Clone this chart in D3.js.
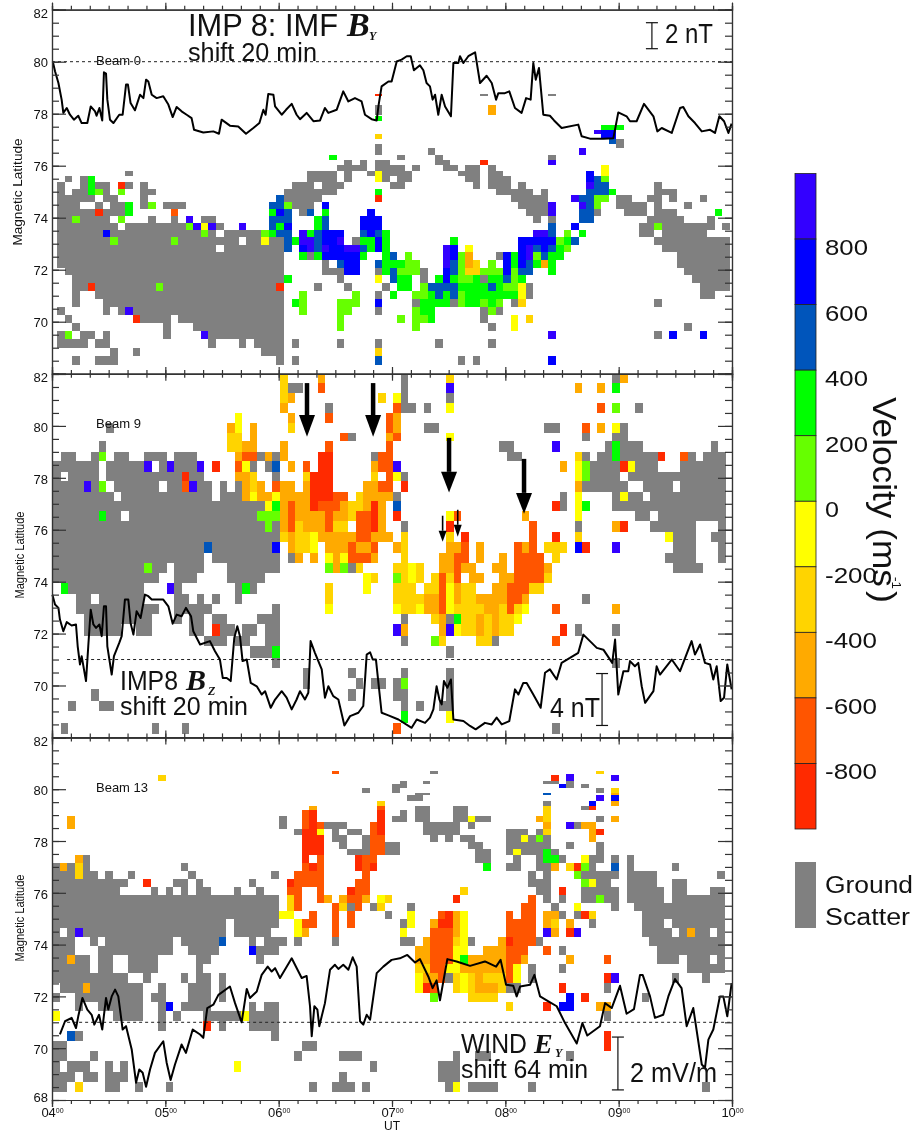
<!DOCTYPE html>
<html>
<head>
<meta charset="utf-8">
<title>IMF and radar velocity</title>
<script src="https://cdn.jsdelivr.net/npm/d3@7"></script>
<style>
  body { margin: 0; background: #fff; }
  text { font-family: "Liberation Sans", Arial, sans-serif; fill: #111; }
  .serif { font-family: "Liberation Serif", serif; font-weight: bold; font-style: italic; }
</style>
</head>
<body>
<div id="chart"></div>
<script>
// velocity bin codes, top of the colour bar first; x = ground scatter
const binCodes = ["a", "b", "c", "d", "e", "f", "g", "h", "i", "j", "x"];
const binColors = ["#3300ff", "#0000ff", "#0055bb", "#00ff00", "#66ff00", "#ffff00", "#ffd400", "#ffaa00", "#ff5500", "#ff2a00", "#808080"];
const velocityEdges = [1000, 800, 600, 400, 200, 0, -200, -400, -600, -800, -1000];
const velocityLabels = [800, 600, 400, 200, 0, -200, -400, -600, -800];

// cells are 4 min wide. each row string lists "col" or "from-to" + bin code
const beam0Edges = [78.76, 78.68, 78.35, 77.96, 77.90, 77.71, 77.58, 77.38, 77.22, 77.04, 76.85, 76.68, 76.42, 76.23, 76.01, 75.79, 75.59, 75.36, 75.12, 74.86, 74.59, 74.33, 74.08, 73.81, 73.53, 73.24, 72.96, 72.67, 72.37, 72.08, 71.78, 71.47, 71.18, 70.87, 70.56, 70.26, 69.95, 69.64, 69.32, 69.0, 68.67, 68.32];
const beam0Rows = [
  "42j 56x 65x",
  "",
  "42x 57h",
  "",
  "42d",
  "",
  "72-74d",
  "71a 72-73b",
  "42g 72-73b",
  "73c 74x",
  "42x 74x",
  "42x 49x 69a",
  "36d 45x 50x 65x",
  "38x 40x 42-43x 50-51x 56j 65a",
  "37-39x 40x 42-45x 47x 51-52x 54-55x 57x 72f",
  "9x 33-36x 38x 41x 42f 43-46x 53-55x 57-58x 70b 72f",
  "1x 3x 4d 33-36x 38x 42f 43x 45-46x 54-55x 57-59x 70b 71c 72e",
  "0x 3x 4d 5-6x 8j 9x 11x 31-33x 35-37x 44-45x 55x 57-59x 61x 70a 71-72c 79x",
  "0x 2-3x 4d 5e 6x 8e 11-12x 30-36x 42d 58-62x 64x 70c 71-72c 73d 79-81x",
  "0-4x 6-7x 11x 29c 30-34x 42j 60-64x 68a 69-70c 71-72e 74-75x 78-79x 81x 85x",
  "0-2x 5x 7-8x 9d 11x 12e 14-16x 28-29c 30e 31-33x 35b 61-64x 65a 69a 70c 71e 74-77x 79x 83x",
  "0-4x 5j 6-8x 9d 15i 28d 29b 30c 32x 33c 35d 41b 62-64x 65a 69-70c 71x 75-77x 79-81x 87d",
  "0-1x 2e 3-6x 8e 12x 15x 17a 19-20x 28-30c 34d 35c 40-42b 63x 65x 69-70c 78-82x 86x",
  "0-7x 9-16x 17e 18a 19f 20a 21x 24a 28c 29d 30b 34d 35c 40-42b 65c 68b 77-78x 79e 80-86x 88x",
  "0-5x 6b 7-18x 19e 20x 22-26x 27e 28d 29-30c 32a 33d 34c 35-37b 40c 41b 42c 43d 63-64a 65c 67e 69d 77-78x 80-85x",
  "0-6x 7e 8-14x 15e 16-23x 25-26x 27f 28-29x 30c 31d 32-33a 34c 35-36b 37a 39x 40-41d 42b 43d 52d 61-65b 66e 67d 68c 79-88x",
  "0-20x 22-29x 30c 32b 33a 34c 35a 36-37b 38-39a 40c 41d 42b 43d 51a 52b 54f 61b 62a 63c 64b 65c 66d 67e 80-88x",
  "0-29x 32d 33x 34d 35-39b 40d 43d 44c 46e 51a 52b 53e 54h 58x 59b 60d 61b 62a 63e 64c 65-66d 82-88x",
  "0-29x 35x 37c 38-39b 42c 43-45d 46-47e 51a 52c 53e 54h 55g 57e 59b 60d 61b 62c 63d 64h 65d 82-88x",
  "1-29x 35-37x 38-39b 42x 43d 44c 45-47e 48x 51b 52c 53e 54-55g 56-58e 59b 60e 61-62c 65d 83-88x",
  "2-29x 30d 37x 42f 44c 45-46d 48x 50d 51b 52d 53-54e 55d 56x 57-58d 59c 60e 61d 84-88x",
  "2-3x 4j 5-12x 13e 14-28x 29j 34x 38x 43x 45-46d 48e 49-52c 53-56d 57c 58d 59-60e 61f 62x 85-88x",
  "2x 5-29x 32e 39e 42x 44d 47-48e 49d 50c 51d 52c 53e 54-60d 61f 62x 85-86x",
  "2x 6-29x 31d 32e 37-39e 42b 47x 48-51d 52x 53e 54-55d 56e 57d 58e 60x 61g 79x",
  "0x 6x 8x 9a 10-29x 32e 37-38e 42x 47e 48-49d 56x 57e 58x",
  "1x 10j 11-14x 16-29x 37e 45e 47-48e 49d 56x 60f 62g",
  "2x 14x 18-29x 37e 47e 57x 60f 83x",
  "0x 1e 3-4x 6x 14x 19a 20-29x 65a 79x 81b 85b",
  "0-3x 5-6x 20x 24x 26-29x 31x 37x 42x 50x 57x",
  "7x 10x 27-29x 42g",
  "2x 5-7x 29x 31x 42c 53x 55x 65b"
];

const beam9Edges = [82.0, 81.64, 81.26, 80.87, 80.49, 80.10, 79.72, 79.40, 79.01, 78.63, 78.24, 77.86, 77.47, 77.09, 76.71, 76.32, 75.91, 75.51, 75.12, 74.72, 74.32, 73.94, 73.54, 73.14, 72.74, 72.35, 71.92, 71.51, 71.06, 70.68, 70.29, 69.85, 69.40, 69.01, 68.56, 68.12];
const beam9Rows = [
  "30g 35h 46x 52g 74x 75h",
  "30g 31-32x 35i 46x 52a 69h 72h 74d",
  "30g 31h 43g 45f 46x 52x",
  "30h 36x 45i 46-47x 49x 52f 72i 74e 77x",
  "24f 31h 36i 44i 45h",
  "7x 23h 24f 26h 31g 44i 45h 49-50x 65-66x 70i 72h 74f 75x",
  "23-24g 26h 38i 39x 44h 45i 52f 70x 74-75x",
  "6x 23-24g 25-26h 30h 36i 44i 59-60x 66a 73x 74d 75-77x 87x",
  "1-2x 5x 6e 8-9x 12-14x 16-18x 24h 25-26i 27x 28h 29x 30h 35-36j 42x 43-44i 60-61x 69g 70x 72-73x 74d 75-79x 80j 83i 84x 86-88x",
  "0-5x 7-11x 12a 14x 15a 16-18x 19a 21j 24i 25f 26x 28x 29c 31h 33i 35-36j 42h 43-44i 45a 67h 69f 70e 71-74x 75j 76f 77-79x 83-88x",
  "0x 2-5x 7-16x 17j 18-19x 24-25h 26g 29x 33g 34-36j 42g 44i 45f 46x 69f 70e 71-74x 76-88x",
  "0-3x 4a 5x 6e 8-13x 15-16x 17i 18a 19-20x 22x 24x 25h 26g 27h 29i 30-31h 33h 34-36j 41-42h 43-44i 46j 69h 70-75x 78-81x 83-88x",
  "0-7x 9-20x 22-24x 25h 26f 27-28h 29f 30-33h 34-36j 37-38i 40g 41-44h 45x 67x 69f 74x 75f 76-77x 79-88x",
  "0-27x 28f 29d 30h 31i 32-33h 34j 35-37i 38h 39-40g 41h 42j 43h 45c 66j 67x 69f 70d 74-88x",
  "0-5x 6d 7-8x 10-26x 27-29e 30h 31i 32-35h 36i 37-38h 39g 40-41i 42j 43h 45j 52f 53i 62h 69f 77-78x 80-88x",
  "0-27x 28e 29x 30h 31i 32g 33-35h 36i 37-38g 40-41i 42j 43h 46x 52j 63i 69x 74h 75j 79-84x 88x",
  "0-29x 30g 31h 32-33g 34f 35-39h 40-41i 42-44h 46g 52g 54j 63i 66j 69g 81f 82-84x 87-88x",
  "0-19x 20c 21-28x 29b 31h 32-33g 34f 36-38h 39i 40-41h 42i 45h 46g 52-53h 54i 56h 61i 62h 63i 65-67g 69b 70j 74a 82-84x 88x",
  "0-19x 21-29x 31x 32h 34h 36f 37h 38f 39-41i 42h 46g 51-52h 53-54i 56h 59h 61-64i 66g 81-84x 88x",
  "0-11x 12e 13-14x 16-19x 23-29x 36e 37h 38e 39x 40g 45-46g 47f 48g 51-52h 53i 54-55h 58-59h 61-64i 65h 82-85x",
  "0-13x 16-18x 23-27x 41f 42g 45e 46g 47f 48g 50g 51i 52g 53i 55-56h 59-60h 61-64i 65g",
  "1d 2-11x 15a 16x 24x 25d 26x 36g 41f 45-47g 49-50g 51i 52f 53h 54-55g 58-59h 60-62i 63-64g",
  "3-4x 6-11x 16-17x 19x 21x 24x 36g 45-48g 49-50h 51i 52f 53h 54-55g 56-59h 60-61i 62h 70x",
  "3-13x 16-20x 29x 36f 45f 46-47g 48f 49-50h 51i 52f 53-56g 57-58h 59g 60i 61g 62f 66i 74h",
  "4-12x 16x 18-19x 21-22x 27-29x 46x 50g 51h 52x 53d 54-55g 56h 57g 58h 59-60g 61f",
  "4-8x 11-12x 18-19x 21j 22-23x 25-26x 28-29x 45a 46h 51h 52a 53f 54-55g 56h 57g 58h 59-60g 67j 69x 74x",
  "20-22x 24-25x 28-29x 46x 50e 51g 56-57g 58x 66i",
  "26-28x 29d 52x",
  "29x 74x",
  "33x 39x 46x 52x",
  "33x 40x 42-43x 45x 46e 52x",
  "5x 39x 45-46x 52x",
  "2x 6-7x 46x 48x 51-52x",
  "46d 52f",
  "1x 13x 17x 45i 66x"
];

const beam13Edges = [80.69, 80.59, 80.53, 80.33, 80.21, 80.05, 79.85, 79.76, 79.56, 79.37, 79.18, 78.95, 78.73, 78.47, 78.22, 77.96, 77.71, 77.45, 77.15, 76.85, 76.55, 76.23, 75.91, 75.59, 75.29, 74.97, 74.63, 74.28, 73.96, 73.6, 73.26, 72.9, 72.51, 72.15, 71.78, 71.42, 71.06, 70.68, 70.29, 69.91, 69.5, 69.09, 68.71, 68.31];
const beam13Rows = [
  "37i 50x 72g",
  "68a",
  "14g 66j 68a 74a",
  "46x 49x 65-66x 68x",
  "45-46x 67b 68x 70x",
  "41x 45x 72x 74g",
  "48-49x 65c 74h",
  "47-48x 72a 74b",
  "43g 65x 71b 74h",
  "34h 43i 48-49x 53-54x 65g 70x 71j",
  "33i 34j 43j 46x 48-49x 53-54x 65g",
  "2h 30x 33i 34j 43j 45-46x 48-49x 53-54x 55f 56-57x 64h 65g 72x 74h",
  "2h 30x 33i 34j 35i 36-38x 42i 43j 49-53x 55x 65h 68a 69x 70-71h",
  "32x 33-34j 35f 37x 39-40x 42i 43j 49-53x 60-62x 64x 65g 71h 72j",
  "33-35j 37-38x 41x 42-43i 50x 52x 54-55x 60-61x 62f 63x 64e 65x 71h",
  "33-35j 38x 41x 42-43i 44-45x 55-56x 60-65x 68x 72x",
  "33-35j 39-41x 42-43i 44-45x 56-57x 60x 61f 62-64x 65d 66x 72x",
  "3h 4x 33j 35i 40j 41-42i 56-57x 61x 64x 65-66d 67x 70f 71-72x 74x 76x",
  "0x 1h 2x 3g 4x 17x 33i 34j 35i 40j 41i 42j 57d 60-61x 64-65x 66h 68g 69j 70e 71x 74c 76x 82x",
  "0-2x 3g 4-5x 7x 10x 18x 29x 32-35i 41i 63x 65x 69e 70-74x 76-79x 88x",
  "0-9x 12j 16-17x 19x 26x 31j 32-35i 40-41i 63-65x 70e 71f 72-73x 76-79x 82-83x",
  "0-8x 13x 15x 17x 19-20x 24x 27x 31-32i 35i 39j 40-41i 54g 64-65x 67j 70-74x 76-80x 82-83x 87-88x",
  "0-29x 31g 32i 35i 36h 38h 39-40i 41h 43f 44g 53j 63i 65x 67x 70-71x 72e 73-74x 76-80x 82-88x",
  "0-29x 31g 32i 37i 38g 39x 40i 42x 43g 47x 62-63i 66x 69f 74x 77-88x",
  "0-29x 30-31f 34i 37i 39i 44x 47f 51i 52j 53h 54f 60i 62-63i 65-66h 67x 69x 70j 71g 78-88x",
  "0-22x 24-29x 32f 33-34i 37i 39i 46x 47f 50h 51-52j 53h 54f 60-63i 65h 66g 68h 71x 78-80x 82-88x",
  "0x 2x 3a 4-22x 24-28x 32f 33h 37i 46f 50-52i 53h 54f 60-63i 65a 66h 68j 69a 78-81x 83x 84h 85-86x 88x",
  "0-2x 5x 7-15x 17-21x 22c 26x 28-30x 32x 37x 46-47x 49h 50-52i 53g 54f 55x 59h 60j 61-63i 64x 79-88x",
  "0-2x 6-15x 18-21x 26b 27-29x 48-49h 50-52i 53-54f 57-59h 60-62i 65i 67x 80-88x",
  "0-1x 2h 3-4x 6-7x 10-13x 19-20x 27x 48-49h 50-52i 53f 54d 55-59h 60-61i 62h 68h 73i 80-82x 84-86x 88x",
  "0-4x 6-7x 10-13x 19x 48-49g 50-51i 52-53f 54-59h 60i 61f 63x 67x 84-88x",
  "0-9x 12x 17x 19-20x 22x 48f 49-50h 51i 52x 53g 54f 55g 56h 57-59g 60i 61f 63x 73j 74a 82x 86x",
  "1-3x 4h 5-11x 14x 18-20x 22x 48f 49j 50i 53g 54f 55g 56-58h 59g 60-61x 67j 73x",
  "0x 3-11x 13-14x 18-20x 22x 50e 55-58g 68b 70j 78x",
  "3x 6-11x 14x 15b 17-20x 26x 28-29x 60g 65j 67-68b 72-73h",
  "0f 8-11x 14x 16x 20-24x 25f 26-29x 73x",
  "14x 20j 22x 26-29x",
  "2c 3x 29x 73j",
  "0-1x 33-34x 73j",
  "0-1x 5x 32x 38-40x 53x 56-57x 68x",
  "0x 2-4x 7x 9x 24f 42x 51-53x",
  "0-2x 4-5x 7-9x 38x 51-53x",
  "0-1x 3g 7-8x 11x 15x 34x 37-39x 41x 52x 53f 55-58x 63x 86x"
];

// solar wind traces: minutes after 04:00 and the latitude axis value they sit on
const imfByMinutes = [0.4, 1.6, 3.4, 5.1, 6.0, 7.8, 9.5, 11.6, 13.9, 15.7, 18.7, 20.5, 22.8, 23.6, 25.1, 26.6, 27.5, 28.6, 29.3, 30.7, 32.5, 35.6, 37.4, 39.2, 40.2, 41.6, 43.9, 46.6, 48.4, 49.8, 51.0, 52.8, 55.4, 58.9, 61.6, 63.9, 66.0, 68.6, 71.3, 73.9, 75.2, 80.1, 85.4, 88.4, 89.8, 94.2, 98.6, 102.7, 106.6, 109.8, 111.9, 113.1, 114.5, 117.2, 118.1, 121.6, 123.9, 126.9, 129.5, 131.3, 134.8, 138.4, 141.9, 144.5, 146.3, 150.7, 154.2, 156.9, 160.4, 163.9, 165.7, 169.2, 171.9, 172.8, 174.5, 178.1, 179.8, 182.5, 185.1, 187.8, 189.9, 191.6, 194.8, 196.6, 198.3, 200.1, 201.5, 202.8, 204.5, 206.3, 208.1, 211.2, 212.5, 215.1, 216.0, 217.8, 220.4, 224.0, 226.6, 230.1, 232.8, 235.1, 236.3, 239.8, 242.1, 245.1, 248.6, 251.0, 253.4, 254.8, 256.1, 257.8, 260.1, 263.6, 265.8, 269.8, 278.6, 280.4, 284.8, 291.9, 297.2, 299.8, 304.2, 306.0, 309.5, 313.4, 318.4, 320.5, 322.8, 328.1, 332.5, 334.2, 336.9, 340.4, 344.0, 348.4, 351.0, 353.3, 355.8, 358.1, 359.8];
const imfByLat = [80.01, 79.63, 79.18, 78.54, 78.03, 78.22, 77.96, 77.77, 77.92, 77.64, 77.64, 78.28, 78.09, 77.92, 78.22, 77.74, 79.59, 79.54, 78.54, 77.77, 77.64, 77.96, 77.96, 79.12, 79.12, 78.41, 78.13, 78.73, 78.60, 79.31, 79.24, 78.73, 78.60, 78.67, 78.35, 77.87, 78.26, 78.09, 77.96, 77.83, 77.38, 77.28, 77.32, 77.23, 77.77, 77.54, 77.51, 77.23, 77.45, 77.64, 78.15, 77.96, 78.76, 78.73, 78.28, 77.96, 78.15, 78.38, 77.96, 77.79, 78.03, 77.71, 77.74, 78.22, 78.03, 78.15, 78.86, 78.47, 78.60, 78.47, 77.96, 77.79, 77.74, 78.28, 79.05, 79.24, 79.24, 80.01, 80.08, 80.21, 80.21, 79.67, 79.86, 79.67, 79.18, 79.05, 78.54, 78.73, 77.96, 78.73, 78.28, 77.90, 79.95, 79.95, 80.21, 79.95, 80.21, 80.36, 79.18, 79.46, 79.18, 78.54, 78.79, 78.79, 78.86, 78.22, 78.03, 78.60, 78.54, 79.95, 79.31, 79.76, 77.96, 77.92, 77.74, 77.45, 77.58, 77.13, 77.04, 77.04, 77.06, 78.05, 77.90, 77.71, 77.71, 78.38, 77.90, 77.32, 77.45, 77.26, 78.22, 78.26, 77.90, 77.64, 77.32, 77.38, 77.26, 77.90, 77.71, 77.26, 77.62];

const imfBzMinutes = [0.2, 1.6, 3.4, 4.2, 6.0, 7.8, 10.4, 12.7, 13.6, 14.8, 15.7, 18.0, 19.2, 20.5, 21.9, 23.3, 25.1, 26.3, 27.5, 28.6, 29.3, 31.6, 32.8, 35.6, 36.9, 38.6, 40.4, 41.6, 43.1, 44.8, 46.9, 49.2, 51.0, 52.8, 55.4, 58.9, 61.6, 63.9, 66.0, 68.6, 70.9, 73.6, 74.8, 78.4, 83.6, 86.3, 88.9, 90.4, 92.5, 94.6, 96.5, 98.1, 99.5, 100.9, 103.1, 105.2, 108.4, 111.0, 112.8, 115.8, 118.1, 121.6, 124.2, 126.9, 129.5, 131.3, 133.9, 135.7, 136.9, 139.2, 142.8, 144.5, 146.3, 148.9, 151.6, 154.8, 157.8, 162.2, 164.8, 166.6, 168.4, 169.8, 171.5, 174.5, 178.1, 183.4, 190.4, 193.1, 197.5, 200.1, 201.9, 203.6, 205.1, 206.3, 207.5, 209.3, 211.2, 212.5, 217.8, 221.3, 224.3, 229.2, 232.8, 235.4, 238.1, 242.1, 245.1, 246.9, 249.5, 251.3, 254.8, 258.7, 261.0, 263.6, 267.2, 269.8, 274.2, 278.6, 281.3, 284.8, 288.4, 291.9, 296.6, 298.1, 299.8, 302.5, 305.1, 306.0, 308.6, 310.4, 312.2, 314.0, 318.4, 320.1, 321.9, 328.1, 332.5, 338.6, 340.4, 343.1, 345.7, 348.4, 350.1, 351.9, 354.0, 355.8, 357.5, 359.8];
const imfBzLat = [73.50, 73.12, 72.99, 72.54, 72.09, 72.44, 72.31, 72.35, 71.51, 70.81, 71.13, 70.17, 71.51, 72.92, 72.35, 72.22, 72.35, 71.90, 73.05, 73.05, 71.51, 70.42, 71.13, 71.64, 71.90, 73.31, 73.31, 72.41, 71.96, 72.86, 72.60, 73.50, 73.44, 73.31, 73.31, 73.31, 73.05, 72.38, 72.73, 72.67, 72.99, 72.67, 72.09, 71.58, 71.71, 71.32, 71.0, 70.29, 70.29, 70.17, 71.83, 72.28, 71.90, 70.94, 71.0, 70.10, 69.97, 69.65, 69.78, 69.14, 69.46, 69.78, 69.53, 69.08, 69.46, 69.78, 69.46, 69.72, 71.71, 71.26, 70.62, 69.53, 69.97, 69.59, 69.46, 68.46, 68.82, 68.95, 69.21, 71.19, 71.28, 71.0, 71.0, 68.95, 68.85, 68.69, 68.37, 68.69, 68.56, 68.76, 69.08, 69.97, 69.46, 69.27, 70.17, 69.91, 70.23, 68.69, 68.63, 68.44, 68.31, 68.56, 68.50, 68.76, 68.50, 68.63, 69.85, 69.65, 70.10, 70.10, 69.65, 69.14, 70.49, 70.62, 70.23, 70.87, 71.06, 71.26, 71.96, 71.71, 71.45, 71.38, 70.87, 71.77, 69.65, 70.55, 70.55, 70.94, 70.74, 70.87, 69.97, 69.33, 69.78, 70.74, 70.42, 71.0, 70.55, 71.71, 71.19, 71.58, 70.87, 70.81, 70.23, 70.74, 69.40, 69.53, 70.81, 69.85];

const windEyMinutes = [4.2, 6.9, 10.4, 12.7, 13.9, 16.1, 18.7, 21.0, 22.4, 24.9, 26.6, 28.6, 29.8, 31.6, 33.4, 35.1, 37.4, 39.2, 42.2, 44.5, 46.2, 48.0, 49.8, 51.9, 54.5, 58.9, 60.7, 62.8, 65.1, 68.6, 70.9, 74.5, 78.4, 80.1, 82.2, 85.4, 88.1, 94.2, 96.9, 100.4, 103.1, 104.8, 108.4, 111.0, 114.2, 116.3, 118.1, 120.7, 126.9, 132.2, 134.8, 136.6, 137.5, 138.9, 140.5, 141.5, 144.5, 147.2, 149.8, 151.6, 154.2, 156.9, 159.2, 161.3, 163.1, 164.8, 166.6, 168.4, 171.9, 175.4, 179.8, 184.2, 188.1, 192.2, 194.8, 199.2, 201.5, 203.6, 205.4, 209.3, 214.2, 221.3, 229.2, 235.1, 237.5, 240.4, 244.2, 246.0, 247.8, 253.1, 255.4, 258.4, 262.8, 267.2, 271.6, 277.8, 280.8, 283.4, 290.1, 292.8, 296.3, 300.7, 304.2, 308.1, 311.3, 312.7, 316.6, 319.2, 323.6, 326.3, 329.8, 333.3, 336.0, 339.5, 344.0, 345.7, 347.5, 350.1, 353.6, 355.4, 357.5, 359.8];
const windEyLat = [70.53, 71.04, 71.17, 70.78, 71.23, 71.94, 71.49, 71.29, 70.91, 71.29, 70.72, 71.94, 71.49, 72.0, 72.26, 72.0, 70.72, 70.85, 69.95, 68.67, 69.18, 69.05, 68.51, 69.18, 69.82, 70.27, 69.44, 68.77, 69.37, 70.14, 69.82, 70.72, 70.53, 70.40, 71.55, 71.68, 72.06, 72.38, 71.74, 71.0, 72.29, 71.94, 72.19, 72.83, 73.15, 72.96, 73.09, 72.71, 73.47, 72.71, 72.79, 71.62, 70.46, 71.62, 71.49, 70.85, 71.74, 73.03, 73.22, 73.06, 73.22, 73.03, 73.51, 73.15, 71.04, 70.91, 71.29, 71.10, 72.90, 73.15, 73.41, 73.47, 73.60, 73.31, 73.44, 72.77, 72.32, 72.62, 71.85, 73.44, 73.35, 73.18, 73.35, 73.15, 73.41, 72.45, 72.41, 72.0, 72.38, 72.45, 72.83, 72.0, 71.81, 71.62, 70.97, 70.18, 70.97, 70.49, 70.85, 71.74, 71.55, 72.41, 71.33, 71.51, 72.83, 72.83, 72.0, 71.17, 71.29, 72.0, 72.67, 72.32, 70.85, 71.55, 69.37, 69.24, 70.33, 70.72, 72.0, 72.0, 71.23, 72.51];

// arrows on the beam 9 panel
const arrowMinutes = [135, 170, 210.2, 249.9, 206.8, 214.8];
const arrowTopLat = [81.65, 81.65, 79.54, 78.73, 76.54, 76.77];
const arrowHeadLat = [80.42, 80.42, 78.23, 77.42, 75.96, 76.19];
const arrowTipLat = [79.58, 79.58, 77.43, 76.62, 75.54, 75.73];
const arrowBig = [true, true, true, true, false, false];

const hourLabels = ["04", "05", "06", "07", "08", "09", "10"];
const latMajor = [82, 80, 78, 76, 74, 72, 70, 68];
const latMinor = d3.range(68, 82.01, 0.5);
const timeMinor = d3.range(0, 361, 10);
const timeMajor = d3.range(0, 361, 60);

const width = 918;
const height = 1133;
const left = 52;
const right = 732;
const cellMinutes = 4;

const svg = d3.select("#chart").append("svg")
  .attr("width", width)
  .attr("height", height)
  .style("display", "block")
  .style("filter", "blur(0.35px)");

const xScale = d3.scaleLinear().domain([0, 360]).range([left, right]);
const colorScale = d3.scaleOrdinal().domain(binCodes).range(binColors);

const panels = [
  { name: "Beam 0", edges: beam0Edges, rows: beam0Rows, offset: 2.8, top: 9.7, bottom: 373.7,
    minutes: imfByMinutes, lat: imfByLat, dotLat: 80, dotFrom: 0, labels: [82, 80, 78, 76, 74, 72, 70],
    latLabelY: 192, latLabelLen: 107, latLabelX: 22, beamY: 65, beamLen: 45 },
  { name: "Beam 9", edges: beam9Edges, rows: beam9Rows, offset: 0.7, top: 374, bottom: 737.4,
    minutes: imfBzMinutes, lat: imfBzLat, dotLat: 71, dotFrom: 8, labels: [82, 80, 78, 76, 74, 72, 70],
    latLabelY: 555, latLabelLen: 87, latLabelX: 24, beamY: 428, beamLen: 45 },
  { name: "Beam 13", edges: beam13Edges, rows: beam13Rows, offset: 0.2, top: 737.4, bottom: 1100,
    minutes: windEyMinutes, lat: windEyLat, dotLat: 71, dotFrom: 8, labels: latMajor,
    latLabelY: 918, latLabelLen: 87, latLabelX: 24, beamY: 792, beamLen: 52 }
];

function parseRow(str) {
  const out = [];
  for (const m of str.matchAll(/(\d+)(?:-(\d+))?([a-jx])/g)) {
    const from = +m[1];
    const to = m[2] ? +m[2] : from;
    out.push({ from: from, to: to, code: m[3] });
  }
  return out;
}

function label(x, y, str, size, len) {
  const t = svg.append("text")
    .attr("x", x)
    .attr("y", y)
    .attr("font-size", size)
    .text(str);
  if (len) t.attr("textLength", len).attr("lengthAdjust", "spacingAndGlyphs");
  return t;
}

function serif(x, y, str, size) {
  return svg.append("text")
    .attr("class", "serif")
    .attr("x", x)
    .attr("y", y)
    .attr("font-size", size)
    .text(str);
}

panels.forEach((p) => {
  p.y = d3.scaleLinear().domain([82, 68]).range([p.top, p.bottom]);

  const cells = [];
  p.rows.forEach((row, i) => {
    parseRow(row).forEach((c) => {
      cells.push({ t0: p.offset + c.from * cellMinutes, t1: p.offset + (c.to + 1) * cellMinutes,
                   hi: p.edges[i], lo: p.edges[i + 1], code: c.code });
    });
  });

  const g = svg.append("g");

  // snap cells to whole pixels so neighbouring rows leave no seam
  g.append("g")
    .attr("shape-rendering", "crispEdges")
    .selectAll("rect")
    .data(cells)
    .enter()
    .append("rect")
    .attr("x", (d) => Math.round(xScale(d.t0)))
    .attr("y", (d) => Math.round(p.y(d.hi)))
    .attr("width", (d) => Math.round(xScale(d.t1)) - Math.round(xScale(d.t0)))
    .attr("height", (d) => Math.max(2, Math.round(p.y(d.lo)) - Math.round(p.y(d.hi))))
    .attr("fill", (d) => colorScale(d.code));

  // dotted reference line
  g.append("line")
    .attr("x1", xScale(p.dotFrom))
    .attr("x2", xScale(360))
    .attr("y1", p.y(p.dotLat))
    .attr("y2", p.y(p.dotLat))
    .attr("stroke", "#222")
    .attr("stroke-width", 1)
    .attr("stroke-dasharray", "3 3");

  const line = d3.line().x((d) => xScale(d[0])).y((d) => p.y(d[1]));
  g.append("path")
    .datum(d3.zip(p.minutes, p.lat))
    .attr("d", line)
    .attr("fill", "none")
    .attr("stroke", "#000")
    .attr("stroke-width", 2)
    .attr("stroke-linejoin", "round");

  // ticks point into the panel on all four sides
  const addAxis = (axis, tx, ty) => {
    const a = g.append("g")
      .attr("transform", "translate(" + tx + "," + ty + ")")
      .call(axis);
    a.selectAll("path,line").attr("stroke", "#333").attr("stroke-width", 1.2);
    return a;
  };
  addAxis(d3.axisLeft(p.y).tickValues(latMinor).tickSize(-7).tickFormat(""), left, 0);
  addAxis(d3.axisRight(p.y).tickValues(latMinor).tickSize(-7).tickFormat(""), right, 0);
  addAxis(d3.axisRight(p.y).tickValues(latMajor).tickSize(-14).tickFormat(""), right, 0);
  const majorAxis = addAxis(d3.axisLeft(p.y).tickValues(latMajor).tickSize(-14)
    .tickFormat((d) => (p.labels.includes(d) ? d : "")), left, 0);
  majorAxis.selectAll(".tick text")
    .attr("x", -4)
    .attr("dy", (d) => (d === 68 ? "0.1em" : d === 82 ? "0.6em" : "0.4em"))
    .attr("font-family", "Liberation Sans")
    .attr("font-size", 13)
    .attr("fill", "#222");

  addAxis(d3.axisTop(xScale).tickValues(timeMinor).tickSize(-4).tickFormat(""), 0, p.bottom);
  addAxis(d3.axisBottom(xScale).tickValues(timeMinor).tickSize(-4).tickFormat(""), 0, p.top);
  addAxis(d3.axisTop(xScale).tickValues(timeMajor).tickSize(-7).tickFormat(""), 0, p.bottom);
  addAxis(d3.axisBottom(xScale).tickValues(timeMajor).tickSize(-7).tickFormat(""), 0, p.top);

  label(96, p.beamY, p.name, 13, p.beamLen).attr("fill", "#222");

  svg.append("text")
    .attr("transform", "translate(" + p.latLabelX + "," + p.latLabelY + ") rotate(-90)")
    .attr("text-anchor", "middle")
    .attr("font-size", 13)
    .attr("textLength", p.latLabelLen)
    .attr("lengthAdjust", "spacingAndGlyphs")
    .text("Magnetic Latitude");
});

// hour labels along the bottom of the last panel
const hourAxis = svg.append("g")
  .attr("transform", "translate(0,1100)")
  .call(d3.axisBottom(xScale).tickValues(timeMajor).tickSize(0).tickPadding(8)
    .tickFormat((d, i) => hourLabels[i]));
hourAxis.select(".domain").remove();
hourAxis.selectAll(".tick text")
  .attr("font-family", "Liberation Sans")
  .attr("font-size", 13)
  .attr("fill", "#222")
  .append("tspan")
  .attr("dy", -4)
  .attr("font-size", 7)
  .text("00");

svg.append("text")
  .attr("x", xScale(180))
  .attr("y", 1130)
  .attr("text-anchor", "middle")
  .attr("font-size", 12)
  .text("UT");

// panel annotations
label(188, 36, "IMP 8: IMF", 32, 150);
serif(347, 36, "B", 34);
serif(369, 40, "Y", 12);
label(188, 61, "shift 20 min", 25, 129);

label(120, 690, "IMP8", 27, 58);
serif(186, 690, "B", 30);
serif(208, 695, "Z", 12);
label(120, 715, "shift 20 min", 25, 128);

label(461, 1053, "WIND", 27, 66);
serif(534, 1053, "E", 28);
serif(555, 1057, "Y", 12);
label(461, 1078, "shift 64 min", 25, 127);

// scale bars: minute on the time axis, then the latitude span
const barMinutes = [317.6, 291.2, 299.6];
const barHi = [81.5, 70.46, 70.43];
const barLo = [80.5, 68.46, 68.39];
panels.forEach((p, i) => {
  const x0 = xScale(barMinutes[i]);
  const bar = svg.append("g").attr("stroke", "#111").attr("stroke-width", 1.2);
  bar.append("line").attr("x1", x0).attr("x2", x0).attr("y1", p.y(barHi[i])).attr("y2", p.y(barLo[i]));
  [barHi[i], barLo[i]].forEach((v) => {
    bar.append("line").attr("x1", x0 - 6).attr("x2", x0 + 6).attr("y1", p.y(v)).attr("y2", p.y(v));
  });
});
label(665, 43, "2 nT", 27, 48);
label(550, 717, "4 nT", 27, 50);
label(630, 1082, "2 mV/m", 27, 87);

// arrows
const beam9y = panels[1].y;
arrowMinutes.forEach((m, i) => {
  const cx = xScale(m);
  const big = arrowBig[i];
  const a = svg.append("g");
  a.append("line")
    .attr("x1", cx).attr("x2", cx)
    .attr("y1", beam9y(arrowTopLat[i])).attr("y2", beam9y(arrowHeadLat[i]))
    .attr("stroke", "#000")
    .attr("stroke-width", big ? 4.5 : 1.6);
  const half = big ? 8 : 4;
  const hy = beam9y(arrowHeadLat[i]);
  const p = d3.path();
  p.moveTo(cx - half, hy);
  p.lineTo(cx + half, hy);
  p.lineTo(cx, beam9y(arrowTipLat[i]));
  p.closePath();
  a.append("path").attr("d", p.toString()).attr("fill", "#000");
});

// colour bar
const barY = d3.scaleLinear().domain([1000, -1000]).range([173.5, 829]);
const barX = 795;
const barW = 21;
svg.append("g")
  .selectAll("rect")
  .data(d3.pairs(velocityEdges))
  .enter()
  .append("rect")
  .attr("x", barX)
  .attr("y", (d) => barY(d[0]))
  .attr("width", barW)
  .attr("height", (d) => barY(d[1]) - barY(d[0]))
  .attr("fill", (d, i) => binColors[i])
  .attr("stroke", "#222")
  .attr("stroke-width", 0.8);

svg.append("g")
  .selectAll("text")
  .data(velocityLabels)
  .enter()
  .append("text")
  .attr("x", 825)
  .attr("y", (d) => barY(d) + 16)
  .attr("font-size", 22)
  .attr("textLength", (d) => (d === 0 ? 14 : d < 0 ? 52 : 43))
  .attr("lengthAdjust", "spacingAndGlyphs")
  .text((d) => d);

svg.append("rect")
  .attr("x", barX)
  .attr("y", 862)
  .attr("width", barW)
  .attr("height", 66)
  .attr("fill", colorScale("x"));

label(825, 893, "Ground", 23, 88);
label(825, 925, "Scatter", 23, 85);

const vel = (y, x, str, size, len) => {
  svg.append("text")
    .attr("transform", "translate(" + x + "," + y + ") rotate(90)")
    .attr("font-size", size)
    .attr("textLength", len)
    .attr("lengthAdjust", "spacingAndGlyphs")
    .text(str);
};
vel(397, 873, "Velocity (ms", 33, 190);
vel(577, 892, "-1", 12, 12);
vel(591, 873, ")", 33, 12);
</script>
</body>
</html>
